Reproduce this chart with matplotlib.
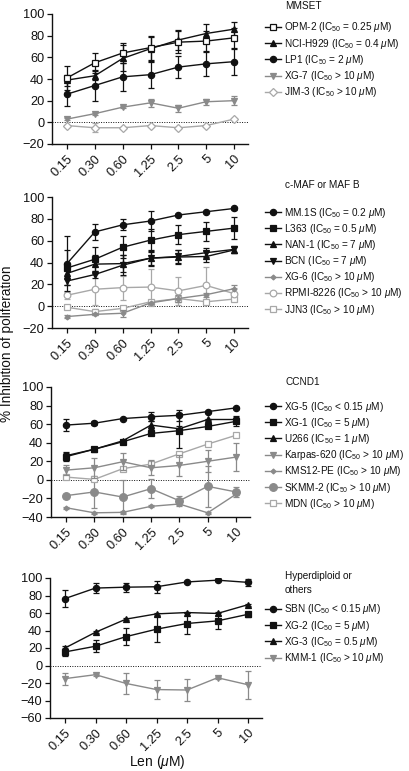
import matplotlib
matplotlib.use("Agg")
import matplotlib.pyplot as plt
from matplotlib.lines import Line2D

plt.rcParams['font.family'] = ['Liberation Sans', 'DejaVu Sans']
plt.rcParams['mathtext.fontset'] = 'custom'
plt.rcParams['mathtext.rm'] = 'Liberation Sans'
plt.rcParams['mathtext.it'] = 'Liberation Sans:italic'
plt.rcParams['axes.unicode_minus'] = True

doses = ['0.15', '0.30', '0.60', '1.25', '2.5', '5', '10']

# ---- Panel 1: MMSET
p1_title = 'MMSET'
p1_names = ['OPM-2 (IC$_{50}$ = 0.25 $\\mu$M)', 'NCI-H929 (IC$_{50}$ = 0.4 $\\mu$M)',
            'LP1 (IC$_{50}$ = 2 $\\mu$M)', 'XG-7 (IC$_{50}$ > 10 $\\mu$M)',
            'JIM-3 (IC$_{50}$ > 10 $\\mu$M)']
p1_vals = [[41, 55, 64, 69, 74, 75, 78],
           [39, 43, 59, 68, 76, 82, 86],
           [26, 34, 42, 44, 51, 54, 56],
           [3, 8, 14, 18, 13, 19, 20],
           [-3, -5, -5, -3, -5, -3, 3]]
p1_errs = [[11, 9, 9, 11, 10, 9, 9],
           [5, 4, 12, 11, 9, 9, 7],
           [11, 14, 13, 12, 10, 11, 12],
           [1, 1, 1, 4, 3, 3, 4],
           [1, 4, 1, 1, 1, 1, 1]]

# ---- Panel 2: c-MAF or MAF B
p2_title = 'c-MAF or MAF B'
p2_names = ['MM.1S (IC$_{50}$ = 0.2 $\\mu$M)', 'L363 (IC$_{50}$ = 0.5 $\\mu$M)',
            'NAN-1 (IC$_{50}$ = 7 $\\mu$M)', 'BCN (IC$_{50}$ = 7 $\\mu$M)',
            'XG-6 (IC$_{50}$ > 10 $\\mu$M)', 'RPMI-8226 (IC$_{50}$ > 10 $\\mu$M)',
            'JJN3 (IC$_{50}$ > 10 $\\mu$M)']
p2_vals = [[39, 68, 74.5, 78, 83.5, 86.5, 89.5],
           [35, 43, 54, 60.5, 65.5, 68.5, 71.5],
           [30, 38.5, 39, 44, 45, 45.5, 51.5],
           [23, 29, 37.5, 44, 45.5, 49, 52],
           [-9.5, -7.5, -6.5, 3, 7, 10.5, 16],
           [10, 15.5, 17, 17.5, 14, 19, 11.5],
           [-1, -5, -2, 4, 7, 4, 6.5]]
p2_errs = [[25, 7, 5, 9, 1, 1, 1],
           [16, 11, 10, 10, 9, 9, 10],
           [5, 8, 8, 7, 6, 5, 3],
           [4, 3, 9, 6, 6, 4, 3],
           [1, 1, 3, 1, 3, 2, 3],
           [3, 14, 11, 17, 12.5, 17, 5],
           [2, 2, 2, 2, 3, 1, 2]]

# ---- Panel 3: CCND1
p3_title = 'CCND1'
p3_names = ['XG-5 (IC$_{50}$ < 0.15 $\\mu$M)', 'XG-1 (IC$_{50}$ = 5 $\\mu$M)',
            'U266 (IC$_{50}$ = 1 $\\mu$M)', 'Karpas-620 (IC$_{50}$ > 10 $\\mu$M)',
            'KMS12-PE (IC$_{50}$ > 10 $\\mu$M)', 'SKMM-2 (IC$_{50}$ > 10 $\\mu$M)',
            'MDN (IC$_{50}$ > 10 $\\mu$M)']
p3_vals = [[59, 61, 66, 68, 69.5, 73.5, 77.5],
           [25, 33, 41, 50, 53, 57.5, 63],
           [26, 33, 42, 59, 55, 65, 65],
           [10.5, 13, 19.5, 13, 15.5, 20, 24.5],
           [-30, -35.5, -35, -28.5, -26, -35.5, -15.5],
           [-17, -13, -18.5, -9.5, -22.5, -7, -13],
           [3, 0.5, 12, 17, 28, 38.5, 48]]
p3_errs = [[6.5, 2, 1, 5, 6, 1, 1],
           [5, 1, 1, 1, 19, 1, 5],
           [3, 1, 1, 4, 3, 1, 4],
           [5, 11, 9, 8, 11, 12, 15],
           [1, 1, 1, 1, 2, 1, 1],
           [2, 17, 18, 10, 5, 22, 5],
           [1, 2, 2, 3, 2, 1, 1]]

# ---- Panel 4: Hyperdiploid or others
p4_title = 'Hyperdiploid or\nothers'
p4_names = ['SBN (IC$_{50}$ < 0.15 $\\mu$M)', 'XG-2 (IC$_{50}$ = 5 $\\mu$M)',
            'XG-3 (IC$_{50}$ = 0.5 $\\mu$M)', 'KMM-1 (IC$_{50}$ > 10 $\\mu$M)']
p4_vals = [[76.5, 88.5, 89.5, 90, 95.5, 97.5, 95],
           [15.5, 22, 33, 41.5, 48, 51, 58.5],
           [20, 38, 53, 59, 60.5, 59.5, 69.5],
           [-15, -10.5, -20.5, -27.5, -28, -14, -22]]
p4_errs = [[10, 6, 5, 7, 1, 1, 4],
           [5, 7, 10, 15, 12, 9, 3],
           [2, 1, 1, 1, 1, 2, 1],
           [7, 1, 12.5, 11, 13, 1, 16]]

BLK = '#111111'
G1 = '#8a8a8a'
G2 = '#a8a8a8'

# styles: (marker, color, filled, markersize)
p1_styles = [('s', BLK, False, 4.2), ('^', BLK, True, 4), ('o', BLK, True, 4.5),
             ('v', G1, True, 4), ('D', G2, False, 4.2)]
p2_styles = [('o', BLK, True, 4.5), ('s', BLK, True, 4.2), ('^', BLK, True, 4),
             ('v', BLK, True, 4), ('D', G1, True, 2.5), ('o', G2, False, 4.8),
             ('s', G2, False, 4.2)]
p3_styles = [('o', BLK, True, 4.5), ('s', BLK, True, 4.2), ('^', BLK, True, 4),
             ('v', G1, True, 4), ('D', G1, True, 2.5), ('o', G1, True, 5.5),
             ('s', G2, False, 4.2)]
p4_styles = [('o', BLK, True, 4.5), ('s', BLK, True, 4.2), ('^', BLK, True, 4),
             ('v', G1, True, 4)]

W, H = 409, 771
fig = plt.figure(figsize=(W / 100, H / 100), dpi=100)

panels = [
    dict(title=p1_title, names=p1_names, vals=p1_vals, errs=p1_errs, styles=p1_styles,
         top=14, bot=144, left=52, right=248, ylim=(-20, 100), yticks=range(-20, 101, 20),
         leg_top=27, title_y=6),
    dict(title=p2_title, names=p2_names, vals=p2_vals, errs=p2_errs, styles=p2_styles,
         top=197, bot=328, left=52, right=248, ylim=(-20, 100), yticks=range(-20, 101, 20),
         leg_top=212, title_y=185),
    dict(title=p3_title, names=p3_names, vals=p3_vals, errs=p3_errs, styles=p3_styles,
         top=387, bot=517, left=51, right=250, ylim=(-40, 100), yticks=range(-40, 101, 20),
         leg_top=406, title_y=382),
    dict(title=p4_title, names=p4_names, vals=p4_vals, errs=p4_errs, styles=p4_styles,
         top=578, bot=718, left=50, right=262, ylim=(-60, 100), yticks=range(-60, 101, 20),
         leg_top=609, title_y=571),
]

LEG_FS = 7.2
xs = list(range(len(doses)))
for pi, p in enumerate(panels):
    ax = fig.add_axes([p['left'] / W, 1 - p['bot'] / H,
                       (p['right'] - p['left']) / W, (p['bot'] - p['top']) / H])
    span = p['right'] - p['left']
    step = (span - 15 - 14) / 6.0
    ax.set_xlim(-15 / step, 6 + 14 / step)
    ax.set_ylim(*p['ylim'])
    ax.axhline(0, color=BLK, lw=0.7, ls=(0, (1, 1.5)), zorder=1)
    handles = []
    n = len(p['names'])
    for i in range(n):
        mk, col, filled, ms = p['styles'][i]
        z = 10 - i if col == BLK else 3 + (n - i) * 0.1
        ax.errorbar(xs, p['vals'][i], yerr=p['errs'][i], color=col, lw=1.0,
                    marker=mk, ms=ms, mfc=(col if filled else 'white'), mec=col,
                    mew=0.9, capsize=2.2, capthick=0.9, elinewidth=0.9, zorder=z)
        h = Line2D([], [], color=col, lw=1.0, marker=mk, ms=ms,
                   mfc=(col if filled else 'white'), mec=col, mew=0.9)
        handles.append(h)
    ax.set_yticks(list(p['yticks']))
    ax.set_xticks(xs)
    ax.set_xticklabels(doses, rotation=45, ha='right', va='top', rotation_mode='anchor')
    ax.tick_params(axis='both', labelsize=9.2, direction='out', length=3.5, width=0.9,
                   pad=2, colors=BLK)
    ax.tick_params(axis='x', pad=3)
    for s in ['top', 'right']:
        ax.spines[s].set_visible(False)
    for s in ['left', 'bottom']:
        ax.spines[s].set_linewidth(1.0)
        ax.spines[s].set_color(BLK)
    ax.patch.set_alpha(0)

    fig.text(285 / W, 1 - p['title_y'] / H, p['title'], fontsize=LEG_FS, ha='left',
             va='center' if '\n' not in p['title'] else 'top', color=BLK,
             linespacing=1.45)
    leg = fig.legend(handles, p['names'], loc='upper left',
                     bbox_to_anchor=(265 / W, 1 - (p['leg_top'] - 6.5) / H),
                     frameon=False, fontsize=LEG_FS, handlelength=1.55, handletextpad=0.4,
                     labelspacing=0.22, borderpad=0, borderaxespad=0)
    for t in leg.get_texts():
        t.set_color(BLK)

fig.text(7 / W, 1 - 344 / H, '% Inhibition of poliferation', rotation=90,
         fontsize=9.8, ha='center', va='center', color=BLK)
fig.text(157 / W, 1 - 762 / H, 'Len ($\\mu$M)', fontsize=10, ha='center',
         va='center', color=BLK)

fig.savefig('out.png', dpi=100)
